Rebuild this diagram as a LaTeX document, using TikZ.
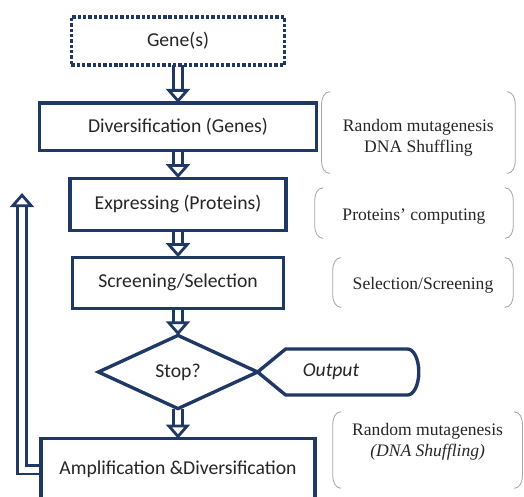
\documentclass[tikz,border=0pt]{standalone}
\usepackage{fontspec}
\setmainfont{Liberation Serif}
\newfontfamily\boxfont{Carlito}
\usetikzlibrary{arrows.meta, shapes.geometric, positioning, backgrounds}
\definecolor{navy}{RGB}{31,56,100}
\definecolor{ink}{RGB}{38,38,38}
\tikzset{
  phase/.style={rectangle, draw=navy, line width=2.4pt, fill=white, text=ink, outer sep=0pt,
                minimum height=1.3cm, font=\boxfont\fontsize{14}{16}\selectfont},
  genebox/.style={phase, dash pattern=on 2.4pt off 1.4pt},
  decide/.style={diamond, draw=navy, line width=2.4pt, fill=white, text=ink, outer sep=0pt,
                 inner sep=0pt, minimum width=3.98cm, minimum height=1.83cm,
                 font=\boxfont\fontsize{14}{16}\selectfont},
  note/.style={rectangle, inner sep=0pt, align=center, text=ink,
               font=\fontsize{12.5}{15}\selectfont},
  brk/.style={draw=gray!70, line width=0.6pt},
  blk/.style={draw=navy, double=white, double distance=4.2pt, line width=2pt,
              -{Triangle[length=10pt, width=17pt, fill=white, line width=2pt]}}
}
\begin{document}
\begin{tikzpicture}[node distance=0.7cm]
  \useasboundingbox (0,0) rectangle (13.1,-12.4);
  % main chain
  \node[genebox, minimum width=5.33cm, minimum height=1.2cm] (g) at (4.45,-1.025) {Gene(s)};
  \node[phase, below=0.95cm of g, minimum width=6.93cm, minimum height=1.18cm] (d)
       {Diversification (Genes)};
  \node[phase, below=of d, minimum width=5.4cm] (e) {Expressing (Proteins)};
  \node[phase, below=0.675cm of e, minimum width=5.28cm, minimum height=1.28cm] (s)
       {Screening/Selection};
  \node[decide, below=0.675cm of s] (dm) {Stop?};
  \node[phase, below=0.75cm of dm, minimum width=6.85cm, minimum height=1.55cm] (a)
       {Amplification \&Diversification};
  % output terminal
  \node[text=ink, font=\boxfont\itshape\fontsize{14}{16}\selectfont] (out) at (8.275,-9.3) {Output};
  \draw[navy, line width=2.4pt, line join=round] (dm.east) -- ++(0.7,0.575) -- ++(3.05,0)
       arc[start angle=90, end angle=-90, x radius=0.28, y radius=0.575] -- ++(-3.05,0) -- cycle;
  % side notes
  \node[note, minimum width=4.83cm, minimum height=2.03cm] (n1) at (10.46,-3.4375)
       {Random mutagenesis\\DNA Shuffling};
  \node[note, minimum width=4.95cm, minimum height=1.25cm] (n2) at (10.35,-5.425)
       {Proteins' computing};
  \node[note, minimum width=4.5cm, minimum height=1.23cm] (n3) at (10.575,-7.125)
       {Selection/Screening};
  \node[note, minimum width=4.73cm, minimum height=1.9cm] (n4) at (10.69,-11.05)
       {Random mutagenesis\\\textit{(DNA Shuffling)}};
  \foreach \n/\o in {n1/3.5pt, n2/2.8pt, n3/1.8pt, n4/-5.7pt} {
    \draw[brk] ([xshift=6pt, yshift=\o]\n.north west) to[out=180,in=90] ([yshift=\o-9pt]\n.north west)
      -- ([yshift=\o+9pt]\n.south west) to[out=-90,in=180] ([xshift=6pt, yshift=\o]\n.south west);
    \draw[brk] ([xshift=-6pt, yshift=\o]\n.north east) to[out=0,in=90] ([yshift=\o-9pt]\n.north east)
      -- ([yshift=\o+9pt]\n.south east) to[out=-90,in=0] ([xshift=-6pt, yshift=\o]\n.south east);
  }
  % hollow arrows
  \begin{scope}[on background layer]
    \foreach \a/\b in {g/d, d/e, e/s, s/dm, dm/a} \draw[blk] (\a) -- (\b);
    \coordinate (fb) at (0.55,-4.825);
    \draw[blk] (a.west) -| (fb);
  \end{scope}
\end{tikzpicture}
\end{document}
